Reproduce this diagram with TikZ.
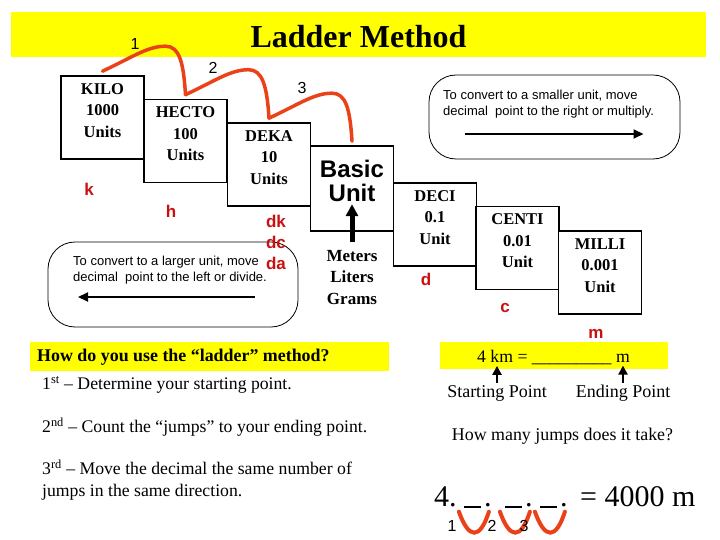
\documentclass[tikz,border=0pt]{standalone}
\usepackage{fontspec}
\setmainfont{Liberation Serif}
\setsansfont{Liberation Sans}
\usetikzlibrary{arrows.meta,positioning}
\definecolor{hlyellow}{RGB}{255,255,0}
\definecolor{jumpred}{RGB}{235,65,25}
\definecolor{prefixred}{RGB}{200,16,16}
\tikzset{
  rung/.style={draw=black,line width=1.6pt,fill=white,minimum width=83pt,minimum height=83pt,inner sep=0pt},
  rungtext/.style={font=\bfseries\fontsize{16.5}{21.5}\selectfont,align=center,inner sep=0pt},
  prefixlabel/.style={text=prefixred,font=\sffamily\bfseries\fontsize{17}{17}\selectfont,inner sep=0pt},
  jump/.style={jumpred,line width=3.5pt,line cap=round},
  jumpnum/.style={font=\sffamily\fontsize{16}{16}\selectfont,inner sep=0pt},
  rulebox/.style={draw=black,line width=0.8pt,rounded corners=27pt,minimum width=251pt,minimum height=84pt},
  ruletext/.style={font=\sffamily\fontsize{13}{16}\selectfont,align=left,anchor=north west,inner sep=0pt},
  ruleptr/.style={-{Triangle[length=10pt,width=9pt]},line width=2pt},
  band/.style={fill=hlyellow,draw=none,inner sep=0pt},
  body/.style={font=\fontsize{17.7}{22}\selectfont,align=left,anchor=west,inner sep=0pt},
  bigtext/.style={font=\fontsize{30}{30}\selectfont,anchor=base west,inner sep=0pt},
  ptr/.style={-{Triangle[length=9pt,width=9pt]},line width=2.6pt}
}
\begin{document}
\begin{tikzpicture}[x=1pt,y=-1pt]
  \useasboundingbox (0,0) rectangle (720,540);
  % title band
  \node[band,minimum width=695pt,minimum height=45pt] (topband) at (358.5,34.5) {};
  \node[font=\bfseries\fontsize{32}{32}\selectfont,inner sep=0pt] (title) at (358.5,37) {Ladder Method};
  % the ladder
  \foreach \id/\cx/\cy/\txt in {kilo/102.5/117.5/{KILO\\1000\\Units},
      hecto/185.5/141/{HECTO\\100\\Units},deka/269/164.5/{DEKA\\10\\Units},
      deci/435/224.5/{DECI\\0.1\\Unit},centi/517.5/248/{CENTI\\0.01\\Unit},
      milli/600/272.5/{MILLI\\0.001\\Unit}}{
    \node[rung] (\id) at (\cx,\cy) {};
    \node[rungtext] (\id-t) at ([yshift=-35pt]\id.north) {\txt};
  }
  \node[rung,minimum height=85pt] (basic) at (352,188.5) {};
  \node[font=\sffamily\bfseries\fontsize{24}{24}\selectfont,align=center,inner sep=0pt]
    (basic-t) at ([yshift=-36pt]basic.north) {Basic\\Unit};
  \node[rungtext,font=\bfseries\fontsize{17}{21.5}\selectfont] (units) at (352,277.5) {Meters\\Liters\\Grams};
  \draw[-{Triangle[length=12pt,width=12pt]},line width=5pt] ([yshift=8pt]units.north) -- ([yshift=-2pt]basic-t.south);
  % jumps
  \foreach \a/\b/\n/\nx/\ny in {kilo/hecto/1/135/44,hecto/deka/2/213/68,deka/basic/3/302/88}{
    \draw[jump] ([yshift=4pt]\a.north) .. controls +(30,-14) and +(-18,0) .. ++(63,-25)
      .. controls +(14,0) and +(-2,-32) .. ([yshift=4pt]\b.north);
    \node[jumpnum] (jn\n) at (\nx,\ny) {\n};
  }
  % rule boxes
  \node[rulebox] (smaller) at (554.5,117) {};
  \node[ruletext] (smaller-t) at (443,90) {To convert to a smaller unit, move\\decimal\ \ point to the right or multiply.};
  \draw[ruleptr] ([xshift=-90pt,yshift=-17pt]smaller.center) -- ([xshift=89pt,yshift=-17pt]smaller.center);
  \node[rulebox,minimum width=250pt,minimum height=85pt] (larger) at (173,284.5) {};
  \node[ruletext] (larger-t) at (73,256) {To convert to a larger unit, move\\decimal\ \ point to the left or divide.};
  \draw[ruleptr] ([xshift=82pt,yshift=-12.5pt]larger.center) -- ([xshift=-95pt,yshift=-12.5pt]larger.center);
  % prefixes
  \foreach \id/\px/\py/\txt in {k/89/189/k,h/171/211/h,dk/276/221/dk,dc/276/242/dc,
      da/276/263/da,d/426/279/d,c/505/308/c,m/596/334/m}{
    \node[prefixlabel] (p-\id) at (\px,\py) {\txt};
  }
  % how to
  \node[band,minimum width=359pt,minimum height=29pt] (howband) at (209.5,356.5) {};
  \node[body,font=\bfseries\fontsize{17.9}{22}\selectfont] (how) at (37,357) {How do you use the “ladder” method?};
  \node[body] (step1) at (42,385) {1\textsuperscript{st} – Determine your starting point.};
  \node[body] (step2) at (42,427) {2\textsuperscript{nd} – Count the “jumps” to your ending point.};
  \node[body] (step3) at (42,480) {3\textsuperscript{rd} – Move the decimal the same number of\\jumps in the same direction.};
  % example
  \node[band,minimum width=228pt,minimum height=27pt] (exband) at (554,355.5) {};
  \node[body] (eqn) at (477,357) {4 km = \_\_\_\_\_\_\_\_\_ m};
  \node[body,font=\fontsize{18}{22}\selectfont,anchor=center] (startpt) at (497,393) {Starting Point};
  \node[body,font=\fontsize{18}{22}\selectfont,anchor=center] (endpt) at (623,393) {Ending Point};
  \draw[ptr] ([yshift=2pt]startpt.north) -- ++(0,-17);
  \draw[ptr] ([yshift=2pt]endpt.north) -- ++(0,-17);
  \node[body,font=\fontsize{17.9}{22}\selectfont,anchor=center] (ask) at (562.5,436) {How many jumps does it take?};
  \node[bigtext] (four) at (434,506) {4.};
  \foreach \i/\bx in {1/464,2/505,3/540}{
    \node[bigtext] (blank\i) at (\bx,506) {\rule[-1.5pt]{17pt}{1.3pt}\hspace{3pt}.};
  }
  \node[bigtext] (result) at (580,506) {= 4000 m};
  \foreach \i/\nx in {1/452,2/492,3/524}{
    \draw[jump,line width=4pt] ([xshift=-33pt,yshift=-4pt]blank\i.south east) .. controls +(10,28) and +(-9,28) .. ([xshift=-3pt,yshift=-4pt]blank\i.south east);
    \node[jumpnum] (vn\i) at (\nx,526) {\i};
  }
\end{tikzpicture}
\end{document}
